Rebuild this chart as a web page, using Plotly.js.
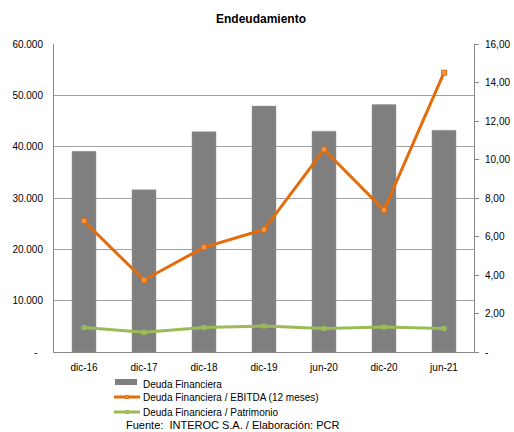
<!DOCTYPE html>
<html>
<head>
<meta charset="utf-8">
<script src="https://cdn.plot.ly/plotly-3.0.1.min.js"></script>
<style>
  html, body { margin: 0; padding: 0; background: #fff; }
  #chart { width: 514px; height: 432px; }
</style>
</head>
<body>
<div id="chart"></div>
<script>
// Periods
const periods = ['dic-16', 'dic-17', 'dic-18', 'dic-19', 'jun-20', 'dic-20', 'jun-21'];

// Deuda Financiera (miles USD) – left axis
const deudaFinanciera = [39100, 31600, 42900, 47900, 43000, 48200, 43200];

// Ratios – right axis
const deudaEbitda = [6.80, 3.74, 5.44, 6.36, 10.52, 7.37, 14.51];
const deudaPatrimonio = [1.27, 1.02, 1.27, 1.35, 1.22, 1.30, 1.22];

// Tick labels
const leftTickVals = [0, 10000, 20000, 30000, 40000, 50000, 60000];
const leftTickText = ['-\u00a0\u00a0', '10.000', '20.000', '30.000', '40.000', '50.000', '60.000'];
const rightTickVals = [0, 2, 4, 6, 8, 10, 12, 14, 16];
const rightTickText = ['-', '2,00', '4,00', '6,00', '8,00', '10,00', '12,00', '14,00', '16,00'];

const seriesNames = ['Deuda Financiera', 'Deuda Financiera / EBITDA (12 meses)', 'Deuda Financiera / Patrimonio'];

const GREY = '#7f7f7f';
const ORANGE = '#E46C0A';
const ORANGE_LIGHT = '#F79646';
const GREEN = '#9BBB59';

const FONT = 'Liberation Sans, Arial, sans-serif';

// Plot area in pixels
const W = 514, H = 432;
const M = { l: 54, r: 40, t: 44, b: 80 };
const PW = W - M.l - M.r, PH = H - M.t - M.b;
const px = x => (x - M.l) / PW;
const py = y => (H - M.b - y) / PH;

const traces = [
  {
    type: 'bar', x: periods, y: deudaFinanciera, name: seriesNames[0],
    marker: { color: GREY, line: { color: '#999', width: 0.5 } },
    yaxis: 'y', showlegend: false, hoverinfo: 'x+y'
  },
  {
    type: 'scatter', mode: 'lines+markers', x: periods, y: deudaEbitda, name: seriesNames[1],
    line: { color: ORANGE, width: 3 },
    marker: { symbol: 'square', size: 5, color: ORANGE_LIGHT, line: { color: ORANGE, width: 1 } },
    yaxis: 'y2', showlegend: false
  },
  {
    type: 'scatter', mode: 'lines+markers', x: periods, y: deudaPatrimonio, name: seriesNames[2],
    line: { color: GREEN, width: 3 },
    marker: { symbol: 'square', size: 4, color: GREEN, line: { color: GREEN, width: 1 } },
    yaxis: 'y2', showlegend: false
  }
];

// Hand-built legend (compact rows)
const legendRows = [384, 397, 412];
const shapes = [
  { type: 'rect', xref: 'paper', yref: 'paper', x0: px(115), x1: px(137), y0: py(385), y1: py(379),
    fillcolor: GREY, line: { width: 0 } },
  { type: 'line', xref: 'paper', yref: 'paper', x0: px(114), x1: px(140), y0: py(legendRows[1]), y1: py(legendRows[1]),
    line: { color: ORANGE, width: 3 } },
  { type: 'rect', xref: 'paper', yref: 'paper', x0: px(125.5), x1: px(128.5), y0: py(legendRows[1] + 1.5), y1: py(legendRows[1] - 1.5),
    fillcolor: ORANGE_LIGHT, line: { color: ORANGE, width: 1 } },
  { type: 'line', xref: 'paper', yref: 'paper', x0: px(114), x1: px(140), y0: py(legendRows[2]), y1: py(legendRows[2]),
    line: { color: GREEN, width: 3 } },
  { type: 'rect', xref: 'paper', yref: 'paper', x0: px(125.5), x1: px(128.5), y0: py(legendRows[2] + 1.5), y1: py(legendRows[2] - 1.5),
    fillcolor: GREEN, line: { color: GREEN, width: 1 } }
];

const annotations = seriesNames.map((name, i) => ({
  xref: 'paper', yref: 'paper', x: px(141), y: py(legendRows[i]),
  xanchor: 'left', yanchor: 'middle', showarrow: false,
  text: name, font: { family: FONT, size: 10, color: '#000' }
}));
annotations.push({
  xref: 'paper', yref: 'paper', x: px(124), y: py(425),
  xanchor: 'left', yanchor: 'middle', showarrow: false,
  text: 'Fuente:  INTEROC S.A. / Elaboración: PCR', font: { family: FONT, size: 11, color: '#000' }
});

const layout = {
  width: W, height: H,
  margin: M,
  paper_bgcolor: '#fff', plot_bgcolor: '#fff',
  showlegend: false,
  bargap: 0.6,
  font: { family: FONT, size: 10, color: '#000' },
  title: {
    text: '<b>Endeudamiento</b>',
    font: { family: FONT, size: 12, color: '#000' },
    xref: 'container', yref: 'container', x: 261 / W, y: 1 - 19 / H,
    xanchor: 'center', yanchor: 'middle'
  },
  xaxis: {
    type: 'category', range: [-0.5, 6.5],
    showline: true, linecolor: '#888', linewidth: 1,
    ticks: '', showgrid: false, zeroline: false,
    tickfont: { family: FONT, size: 10, color: '#000' },
    ticklabelstandoff: 6
  },
  yaxis: {
    range: [0, 60000], tickvals: leftTickVals, ticktext: leftTickText,
    showline: true, linecolor: '#888', linewidth: 1, mirror: false,
    showgrid: true, gridcolor: '#a0a0a0', gridwidth: 1, zeroline: false,
    ticks: '', ticklabelstandoff: 8,
    tickfont: { family: FONT, size: 10, color: '#000' }
  },
  yaxis2: {
    range: [0, 16], tickvals: rightTickVals, ticktext: rightTickText,
    overlaying: 'y', side: 'right',
    showline: true, linecolor: '#888', linewidth: 1,
    showgrid: false, zeroline: false,
    ticks: 'outside', ticklen: 4, tickcolor: '#888', ticklabelstandoff: 4,
    tickfont: { family: FONT, size: 10, color: '#000' }
  },
  shapes: shapes,
  annotations: annotations
};

Plotly.newPlot('chart', traces, layout, { displayModeBar: false, staticPlot: true });
</script>
</body>
</html>
